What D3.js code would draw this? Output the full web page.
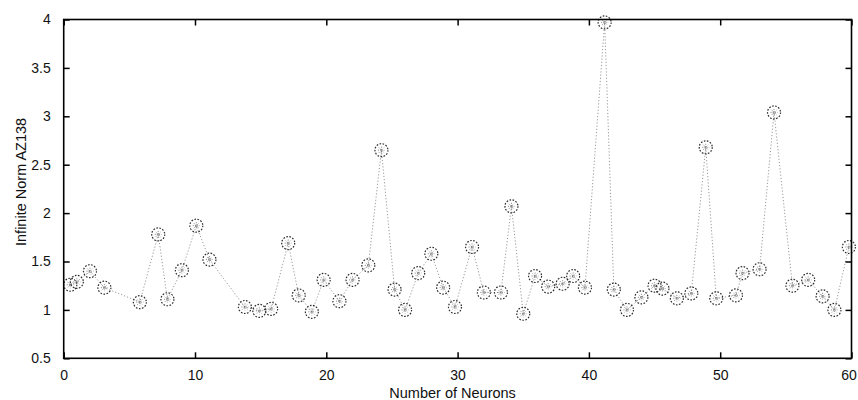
<!DOCTYPE html>
<html>
<head>
<meta charset="utf-8">
<script src="https://cdn.jsdelivr.net/npm/d3@7"></script>
<style>
  html, body { margin: 0; padding: 0; background: #fff; }
  svg { display: block; }
  text { font-family: "Liberation Sans", Arial, Helvetica, sans-serif; fill: #111; }
</style>
</head>
<body>
<svg id="chart" width="858" height="400"></svg>
<script>
// Neuron count (x) versus infinite norm of AZ138 (y)
const neurons = [0.5, 1.0, 2.0, 3.1, 5.8, 7.2, 7.9, 9.0, 10.1, 11.1,
                 13.8, 14.9, 15.8, 17.1, 17.9, 18.9, 19.8, 21.0, 22.0, 23.2,
                 24.2, 25.2, 26.0, 27.0, 28.0, 28.9, 29.8, 31.1, 32.0, 33.3,
                 34.1, 35.0, 35.9, 36.9, 38.0, 38.8, 39.7, 41.2, 41.9, 42.9,
                 44.0, 45.0, 45.6, 46.7, 47.8, 48.9, 49.7, 51.2, 51.7, 53.0,
                 54.1, 55.5, 56.7, 57.8, 58.7, 59.8];
const infNorm = [1.26, 1.29, 1.40, 1.23, 1.08, 1.78, 1.11, 1.41, 1.87, 1.52,
                 1.03, 0.99, 1.01, 1.69, 1.15, 0.98, 1.31, 1.09, 1.31, 1.46,
                 2.65, 1.21, 1.00, 1.38, 1.58, 1.23, 1.03, 1.65, 1.18, 1.18,
                 2.07, 0.96, 1.35, 1.24, 1.27, 1.35, 1.23, 3.97, 1.21, 1.00,
                 1.13, 1.25, 1.22, 1.12, 1.17, 2.68, 1.12, 1.15, 1.38, 1.42,
                 3.04, 1.25, 1.31, 1.14, 1.00, 1.65];
const xTicks = [0, 10, 20, 30, 40, 50, 60];
const yTicks = [0.5, 1, 1.5, 2, 2.5, 3, 3.5, 4];
const xTitle = "Number of Neurons";
const yTitle = "Infinite Norm AZ138";

const svg = d3.select("#chart");
const plotLeft = 63.7, plotRight = 851.5, plotTop = 19.5, plotBottom = 358.3;

const x = d3.scaleLinear().domain([0, 60]).range([plotLeft, plotRight]);
const y = d3.scaleLinear().domain([0.5, 4]).range([plotBottom, plotTop]);

const points = neurons.map((n, i) => ({ n, v: infNorm[i] }));

// connecting dotted line
svg.append("path")
  .datum(points)
  .attr("fill", "none")
  .attr("stroke", "#9a9a9a")
  .attr("stroke-width", 1)
  .attr("stroke-dasharray", "1.2,2")
  .attr("d", d3.line().x(d => x(d.n)).y(d => y(d.v)));

// markers: dotted ring with a faint asterisk inside
const mk = svg.append("g").selectAll("g")
  .data(points).join("g")
  .attr("transform", d => `translate(${x(d.n)},${y(d.v)})`);
mk.append("circle")
  .attr("r", 6.5)
  .attr("fill", "none")
  .attr("stroke", "#2a2a2a")
  .attr("stroke-width", 1.2)
  .attr("stroke-dasharray", "1.6,1.5");
mk.append("path")
  .attr("d", "M-3.5,0H3.5M0,-3.5V3.5M-2.5,-2.5L2.5,2.5M-2.5,2.5L2.5,-2.5")
  .attr("stroke", "#666")
  .attr("stroke-width", 0.8)
  .attr("stroke-dasharray", "1,1.2");

// axes (inward ticks on all four sides, labels on bottom and left)
const fmt = d => String(d);
svg.append("g")
  .attr("transform", `translate(0,${plotBottom})`)
  .call(d3.axisBottom(x).tickValues(xTicks).tickFormat(fmt).tickSizeInner(-6).tickSizeOuter(0).tickPadding(12))
  .call(g => g.select(".domain").remove())
  .call(g => g.selectAll(".tick text").filter(d => d === 60).attr("dx", -3));
svg.append("g")
  .attr("transform", `translate(0,${plotTop})`)
  .call(d3.axisTop(x).tickValues(xTicks).tickFormat("").tickSizeInner(-6).tickSizeOuter(0))
  .call(g => g.select(".domain").remove());
svg.append("g")
  .attr("transform", `translate(${plotLeft},0)`)
  .call(d3.axisLeft(y).tickValues(yTicks).tickFormat(fmt).tickSizeInner(-6).tickSizeOuter(0).tickPadding(13))
  .call(g => g.select(".domain").remove());
svg.append("g")
  .attr("transform", `translate(${plotRight},0)`)
  .call(d3.axisRight(y).tickValues(yTicks).tickFormat("").tickSizeInner(-6).tickSizeOuter(0))
  .call(g => g.select(".domain").remove());

svg.selectAll(".tick line").attr("stroke", "#000").attr("stroke-width", 1.5);
svg.selectAll(".tick text").attr("font-size", 14).attr("fill", "#111");

// frame
svg.append("rect")
  .attr("x", plotLeft).attr("y", plotTop)
  .attr("width", plotRight - plotLeft).attr("height", plotBottom - plotTop)
  .attr("fill", "none").attr("stroke", "#000").attr("stroke-width", 1.6);

// titles
svg.append("text")
  .attr("x", (plotLeft + plotRight) / 2 - 5).attr("y", 398)
  .attr("text-anchor", "middle").attr("font-size", 14.5)
  .text(xTitle);
svg.append("text")
  .attr("transform", `translate(26,${(plotTop + plotBottom) / 2 - 7}) rotate(-90)`)
  .attr("text-anchor", "middle").attr("font-size", 14.5)
  .text(yTitle);
</script>
</body>
</html>
